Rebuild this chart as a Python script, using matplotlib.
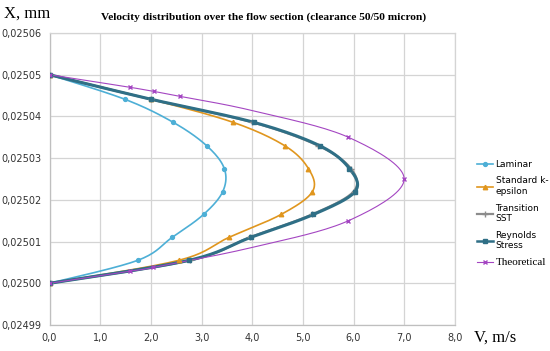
import numpy as np
import matplotlib
matplotlib.use("Agg")
import matplotlib.pyplot as plt
from matplotlib.lines import Line2D

# ---- data ----
x_pos = [0.02500, 0.0250055, 0.0250110, 0.0250165, 0.0250220,
         0.0250275, 0.0250330, 0.0250386, 0.0250441, 0.02505]
v_laminar = [0.0, 1.74, 2.42, 3.04, 3.42, 3.45, 3.10, 2.44, 1.49, 0.0]
v_keps = [0.0, 2.55, 3.54, 4.57, 5.19, 5.11, 4.64, 3.62, 2.00, 0.0]
v_sst = [0.0, 2.78, 3.95, 5.18, 6.00, 5.95, 5.30, 4.00, 2.00, 0.0]
v_rsm = [0.0, 2.75, 3.97, 5.21, 6.03, 5.92, 5.33, 4.03, 2.01, 0.0]

x_theory = [0.02500, 0.0250029, 0.0250038, 0.0250086, 0.0250150, 0.0250250,
            0.0250350, 0.0250414, 0.0250448, 0.0250460, 0.0250470, 0.02505]
v_theory = [0.0, 1.58, 2.05, 4.00, 5.90, 7.00, 5.90, 4.00, 2.58, 2.06, 1.58, 0.0]
theory_marks = [0, 1, 2, 4, 5, 6, 8, 9, 10, 11]

series_names = ["Laminar", "Standard k-\nepsilon", "Transition\nSST",
                "Reynolds\nStress", "Theoretical"]
x_ticks = [0, 1, 2, 3, 4, 5, 6, 7, 8]
y_ticks = [0.02499, 0.02500, 0.02501, 0.02502, 0.02503, 0.02504, 0.02505, 0.02506]

XMIN, XMAX = 0.0, 8.0
YMIN, YMAX = 0.02499, 0.02506
SERIF = ["Liberation Serif", "DejaVu Serif"]


def smooth(vs, xs, n=20):
    """Catmull-Rom smoothing in normalised axis space (like Excel smoothed lines)."""
    px = (np.asarray(vs) - XMIN) / (XMAX - XMIN) * 8.0
    py = (np.asarray(xs) - YMIN) / (YMAX - YMIN) * 7.0
    P = np.column_stack([px, py])
    P = np.vstack([P[0], P, P[-1]])
    out = []
    for i in range(1, len(P) - 2):
        p0, p1, p2, p3 = P[i - 1], P[i], P[i + 1], P[i + 2]
        t = np.linspace(0, 1, n)[:, None]
        c1 = p1 + (p2 - p0) / 6.0
        c2 = p2 - (p3 - p1) / 6.0
        seg = ((1 - t) ** 3) * p1 + 3 * ((1 - t) ** 2) * t * c1 + 3 * (1 - t) * t ** 2 * c2 + t ** 3 * p2
        out.append(seg)
    S = np.vstack(out)
    sv = S[:, 0] / 8.0 * (XMAX - XMIN) + XMIN
    sx = S[:, 1] / 7.0 * (YMAX - YMIN) + YMIN
    return sv, sx


fig = plt.figure(figsize=(5.5, 3.51), dpi=100)
ax = fig.add_axes([0.09, 0.074, 0.737, 0.832])

styles = [
    (v_laminar, x_pos, "#4DAFD6", 1.2, "o", 2.8, None),
    (v_keps, x_pos, "#E0961E", 1.2, "^", 3.2, None),
    (v_sst, x_pos, "#8C8C8C", 1.6, "+", 4.5, None),
    (v_rsm, x_pos, "#2F6F86", 2.2, "s", 3.0, None),
    (v_theory, x_theory, "#A446C2", 0.8, "x", 3.0, theory_marks),
]

handles = []
for (vs, xs, col, lw, mk, ms, mev), name in zip(styles, series_names):
    sv, sx = smooth(vs, xs)
    ax.plot(sv, sx, color=col, lw=lw, zorder=3)
    if mev is None:
        ax.plot(vs, xs, ls="none", marker=mk, ms=ms, color=col, mec=col, zorder=4)
    else:
        ax.plot(np.asarray(vs)[mev], np.asarray(xs)[mev], ls="none", marker=mk,
                ms=ms, color=col, mec=col, zorder=4)
    handles.append(Line2D([0], [0], color=col, lw=lw if lw < 2 else 1.8,
                          marker=mk, ms=ms, mec=col, label=name))

ax.set_xlim(XMIN, XMAX)
ax.set_ylim(YMIN, YMAX)
ax.set_xticks(x_ticks)
ax.set_yticks(y_ticks)
ax.set_xticklabels([f"{t:.1f}".replace(".", ",") for t in x_ticks])
ax.set_yticklabels([f"{t:.5f}".replace(".", ",") for t in y_ticks])
ax.tick_params(axis="both", length=0, labelsize=7, colors="#333333", pad=6)
ax.grid(True, color="#D4D4D4", lw=0.9)
ax.set_axisbelow(True)
for s in ax.spines.values():
    s.set_color("#D4D4D4")
    s.set_linewidth(0.9)
ax.spines["left"].set_color("#BFBFBF")
ax.spines["bottom"].set_color("#BFBFBF")

fig.text(0.008, 0.962, "X, mm", fontsize=12, family=SERIF, ha="left", va="center")
fig.text(0.862, 0.037, "V, m/s", fontsize=12, family=SERIF, ha="left", va="center")
fig.text(0.48, 0.952, "Velocity distribution over the flow section (clearance 50/50 micron)",
         fontsize=8.2, family=SERIF, weight="bold", ha="center", va="center")

leg = fig.legend(handles=handles, loc="upper left", bbox_to_anchor=(0.86, 0.555),
                 frameon=False, fontsize=6.5, handlelength=1.8, handletextpad=0.3,
                 labelspacing=0.85, borderaxespad=0)
leg.get_texts()[4].set_fontfamily(SERIF)
leg.get_texts()[4].set_fontsize(8)

fig.savefig("out.png", dpi=100)
